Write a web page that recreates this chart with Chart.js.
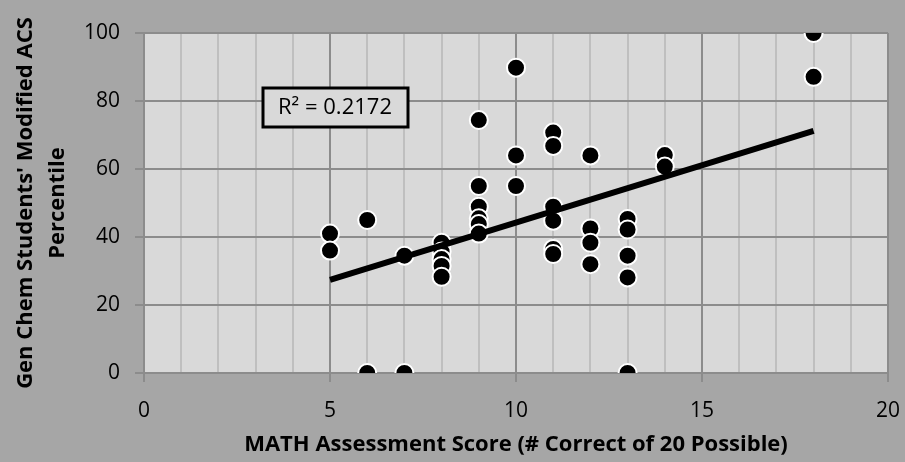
<!DOCTYPE html>
<html>
<head>
<meta charset="utf-8">
<script src="https://cdn.jsdelivr.net/npm/chart.js@4"></script>
<style>
    body { margin: 0; background: #a6a6a6; }
    canvas { display: block; }
</style>
</head>
<body>
<canvas id="scatterChart" width="905" height="462"></canvas>
<script>
// MATH score (x) and ACS percentile (y) for every student
const mathScores = [5, 5, 6, 6, 7, 7, 8, 8, 8, 8, 8, 9, 9, 9, 9, 9, 9, 10, 10, 10,
    11, 11, 11, 11, 11, 11, 12, 12, 12, 12, 13, 13, 13, 13, 13, 14, 14, 18, 18];
const acsPercentiles = [41, 36, 45, 0, 34.5, 0, 38.3, 35.7, 33.5, 31.5, 28.3, 74.4, 55, 48.9, 45.5, 43.8, 41, 89.8, 64, 55,
    70.7, 66.8, 48.9, 44.8, 36.5, 35, 64, 42.5, 38.3, 32, 45.3, 42.2, 34.5, 28.1, 0, 64.1, 60.7, 100, 87.1];

// Linear trendline end points
const trendX = [5, 18];
const trendY = [27.4, 71.2];
const rSquaredLabel = 'R\u00b2 = 0.2172';

// Axis ticks
const xTicks = [0, 5, 10, 15, 20];
const yTicks = [0, 20, 40, 60, 80, 100];

const fontFamily = "'Open Sans', sans-serif";

// Plugin to paint the gray background and the plot area
const backgroundPlugin = {
    id: 'background',
    beforeDraw(chart) {
        const ctx = chart.ctx;
        const area = chart.chartArea;
        ctx.save();
        ctx.fillStyle = '#a6a6a6';
        ctx.fillRect(0, 0, chart.width, chart.height);
        ctx.fillStyle = '#d9d9d9';
        ctx.fillRect(area.left, area.top, area.right - area.left, area.bottom - area.top);
        ctx.restore();
    }
};

// Plugin to draw the R squared box
const rSquaredPlugin = {
    id: 'rSquared',
    afterDatasetsDraw(chart) {
        const ctx = chart.ctx;
        const area = chart.chartArea;
        const left = area.left + 119;
        const top = area.top + 55;
        ctx.save();
        ctx.fillStyle = '#d9d9d9';
        ctx.fillRect(left, top, 145, 39);
        ctx.strokeStyle = '#000000';
        ctx.lineWidth = 3;
        ctx.strokeRect(left, top, 145, 39);
        ctx.fillStyle = '#000000';
        ctx.font = `22px ${fontFamily}`;
        ctx.textBaseline = 'middle';
        ctx.textAlign = 'center';
        ctx.fillText(rSquaredLabel, left + 72, top + 20);
        ctx.restore();
    }
};

const scatterPoints = mathScores.map((x, i) => ({x: x, y: acsPercentiles[i]}));
const trendPoints = trendX.map((x, i) => ({x: x, y: trendY[i]}));

new Chart(document.getElementById('scatterChart').getContext('2d'), {
    type: 'scatter',
    data: {
        datasets: [
            {
                // Trendline on top of the points
                type: 'line',
                data: trendPoints,
                borderColor: '#000000',
                borderWidth: 6,
                pointRadius: 0,
                fill: false,
                order: 0
            },
            {
                data: scatterPoints,
                backgroundColor: '#000000',
                borderColor: '#ffffff',
                borderWidth: 2,
                pointRadius: 9,
                pointHoverRadius: 9,
                order: 1
            }
        ]
    },
    options: {
        responsive: false,
        animation: false,
        layout: {padding: {top: 33, right: 17, left: 0, bottom: 0}},
        plugins: {
            legend: {display: false},
            tooltip: {enabled: false}
        },
        scales: {
            x: {
                type: 'linear',
                min: 0,
                max: 20,
                afterFit: scale => {
                    // fixed height, and no extra room for the end labels
                    scale.height = 89;
                    scale.paddingLeft = 0;
                    scale.paddingRight = 0;
                },
                ticks: {
                    stepSize: 1,
                    padding: 16,
                    color: '#000000',
                    font: {family: fontFamily, size: 21},
                    autoSkip: false,
                    maxRotation: 0,
                    callback: value => xTicks.includes(value) ? value : ''
                },
                grid: {
                    color: c => (c.tick && c.tick.value % 5 === 0) ? '#8c8c8c' : '#bfbfbf',
                    tickColor: c => (c.tick && c.tick.value % 5 === 0) ? '#8c8c8c' : 'rgba(0,0,0,0)',
                    tickLength: 9,
                    lineWidth: 2
                },
                border: {color: '#8c8c8c', width: 2},
                title: {
                    display: true,
                    text: 'MATH Assessment Score (# Correct of 20 Possible)',
                    color: '#000000',
                    font: {family: fontFamily, size: 22, weight: 'bold'},
                    padding: {top: 0, bottom: 4}
                }
            },
            y: {
                min: 0,
                max: 100,
                afterFit: scale => {
                    scale.width = 144;
                    scale.paddingTop = 0;
                    scale.paddingBottom = 0;
                },
                ticks: {
                    stepSize: 20,
                    padding: 15,
                    color: '#000000',
                    font: {family: fontFamily, size: 21},
                    callback: value => yTicks.includes(value) ? value : ''
                },
                grid: {
                    color: '#8c8c8c',
                    tickColor: '#8c8c8c',
                    tickLength: 9,
                    lineWidth: 2
                },
                border: {color: '#8c8c8c', width: 2},
                title: {
                    display: true,
                    text: ["Gen Chem Students' Modified ACS", 'Percentile'],
                    color: '#000000',
                    font: {family: fontFamily, size: 22, weight: 'bold', lineHeight: 1.45},
                    padding: {top: 10, bottom: 0}
                }
            }
        }
    },
    plugins: [backgroundPlugin, rSquaredPlugin]
});
</script>
</body>
</html>
